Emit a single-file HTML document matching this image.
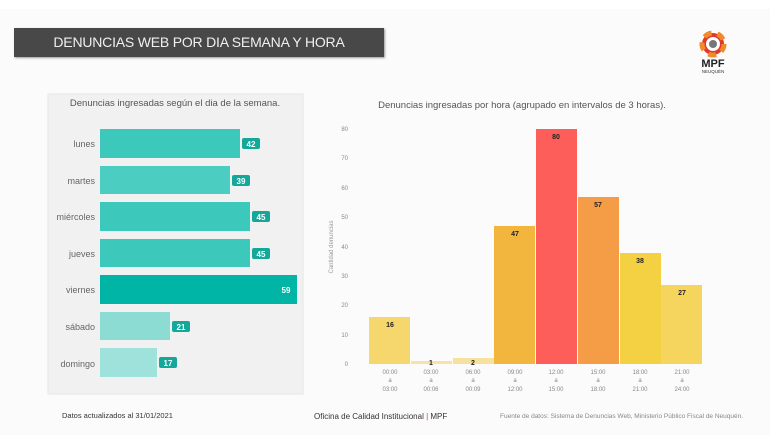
<!DOCTYPE html>
<html><head><meta charset="utf-8"><style>
body{margin:0;width:770px;height:435px;background:#fbfbfb;font-family:"Liberation Sans",sans-serif;position:relative;overflow:hidden}
.a{position:absolute}
</style></head><body>
<div class="a" style="left:0;top:0;width:770px;height:9px;background:#fff"></div>
<div class="a" style="left:14px;top:28px;width:370px;height:29px;background:#484848;box-shadow:1px 1px 2px #999"></div>
<div class="a" style="left:14px;top:28px;width:370px;height:29px;line-height:29px;color:#f0f0f0;font-size:14px;text-align:center;letter-spacing:-0.2px">DENUNCIAS WEB POR DIA SEMANA Y HORA</div>
<svg class="a" style="left:0;top:0" width="770" height="435">
<g transform="translate(713,44)">
<circle r="11" fill="#e0392b"/><circle r="11" fill="none" stroke="#f08a2a" stroke-width="5" stroke-dasharray="8 6"/><circle r="7" fill="#fff"/><circle r="4" fill="#777"/>
</g>
<text x="713" y="67" font-size="11" font-weight="bold" text-anchor="middle" fill="#222">MPF</text>
<text x="713" y="73" font-size="4.5" text-anchor="middle" fill="#333">NEUQUÉN</text>
<rect x="48" y="94" width="255" height="300" fill="#f1f1f1" stroke="#e6e6e6"/>
<text x="175" y="106" font-size="9.5" text-anchor="middle" fill="#555">Denuncias ingresadas según el dia de la semana.</text>
<g font-size="9" fill="#666" text-anchor="end">
<text x="95" y="147">lunes</text><text x="95" y="184">martes</text><text x="95" y="220">miércoles</text><text x="95" y="257">jueves</text><text x="95" y="293">viernes</text><text x="95" y="330">sábado</text><text x="95" y="367">domingo</text>
</g>
<rect x="100" y="129" width="140" height="29" fill="#3cc8bb"/>
<rect x="100" y="166" width="130" height="28" fill="#4ccdc1"/>
<rect x="100" y="202" width="150" height="29" fill="#3cc8bb"/>
<rect x="100" y="239" width="150" height="28" fill="#3cc8bb"/>
<rect x="100" y="275" width="197" height="29" fill="#00b5a6"/>
<rect x="100" y="312" width="70" height="28" fill="#8cdcd4"/>
<rect x="100" y="348" width="57" height="29" fill="#9ee2db"/>
<g fill="#13a89a"><rect x="242" y="138" width="18" height="11" rx="2"/><rect x="232" y="175" width="18" height="11" rx="2"/><rect x="252" y="211" width="18" height="11" rx="2"/><rect x="252" y="248" width="18" height="11" rx="2"/><rect x="172" y="321" width="18" height="11" rx="2"/><rect x="159" y="357" width="18" height="11" rx="2"/></g>
<g font-size="8" fill="#fff" text-anchor="middle" font-weight="bold"><text x="251" y="147">42</text><text x="241" y="184">39</text><text x="261" y="220">45</text><text x="261" y="257">45</text><text x="286" y="293">59</text><text x="181" y="330">21</text><text x="168" y="366">17</text></g>
<text x="522" y="108" font-size="9.5" text-anchor="middle" fill="#555">Denuncias ingresadas por hora (agrupado en intervalos de 3 horas).</text>
<g font-size="6" fill="#888" text-anchor="end">
<text x="348" y="366">0</text><text x="348" y="337">10</text><text x="348" y="307">20</text><text x="348" y="278">30</text><text x="348" y="249">40</text><text x="348" y="219">50</text><text x="348" y="190">60</text><text x="348" y="160">70</text><text x="348" y="131">80</text>
</g>
<text transform="translate(333,247) rotate(-90)" font-size="6" fill="#999" text-anchor="middle">Cantidad denuncias</text>
<g>
<rect x="369" y="317" width="41" height="47" fill="#f5d76e"/>
<rect x="411" y="361" width="41" height="3" fill="#f7e3a6"/>
<rect x="453" y="358" width="41" height="6" fill="#f6e29e"/>
<rect x="494" y="226" width="41" height="138" fill="#f2b63e"/>
<rect x="536" y="129" width="41" height="235" fill="#fd5e5a"/>
<rect x="578" y="197" width="41" height="167" fill="#f49d46"/>
<rect x="620" y="253" width="41" height="111" fill="#f4d043"/>
<rect x="661" y="285" width="41" height="79" fill="#f5d55e"/>
</g>
<g font-size="7" fill="#222" text-anchor="middle" font-weight="bold">
<text x="390" y="327">16</text><text x="431" y="365">1</text><text x="473" y="365">2</text><text x="515" y="236">47</text><text x="556" y="139">80</text><text x="598" y="207">57</text><text x="640" y="263">38</text><text x="682" y="295">27</text>
</g>
<g font-size="6" fill="#888" text-anchor="middle">
<text x="390" y="374">00:00</text><text x="390" y="382">a</text><text x="390" y="391">03:00</text>
<text x="431" y="374">03:00</text><text x="431" y="382">a</text><text x="431" y="391">00:06</text>
<text x="473" y="374">06:00</text><text x="473" y="382">a</text><text x="473" y="391">00:09</text>
<text x="515" y="374">09:00</text><text x="515" y="382">a</text><text x="515" y="391">12:00</text>
<text x="556" y="374">12:00</text><text x="556" y="382">a</text><text x="556" y="391">15:00</text>
<text x="598" y="374">15:00</text><text x="598" y="382">a</text><text x="598" y="391">18:00</text>
<text x="640" y="374">18:00</text><text x="640" y="382">a</text><text x="640" y="391">21:00</text>
<text x="682" y="374">21:00</text><text x="682" y="382">a</text><text x="682" y="391">24:00</text>
</g>
<text x="62" y="418" font-size="7.5" fill="#333">Datos actualizados al 31/01/2021</text>
<text x="314" y="419" font-size="8" fill="#333">Oficina de Calidad Institucional <tspan fill="#e03a2b">|</tspan> MPF</text>
<text x="500" y="418" font-size="6.5" fill="#888">Fuente de datos:  Sistema de Denuncias Web, Ministerio Público Fiscal de Neuquén.</text>
</svg>
</body></html>
